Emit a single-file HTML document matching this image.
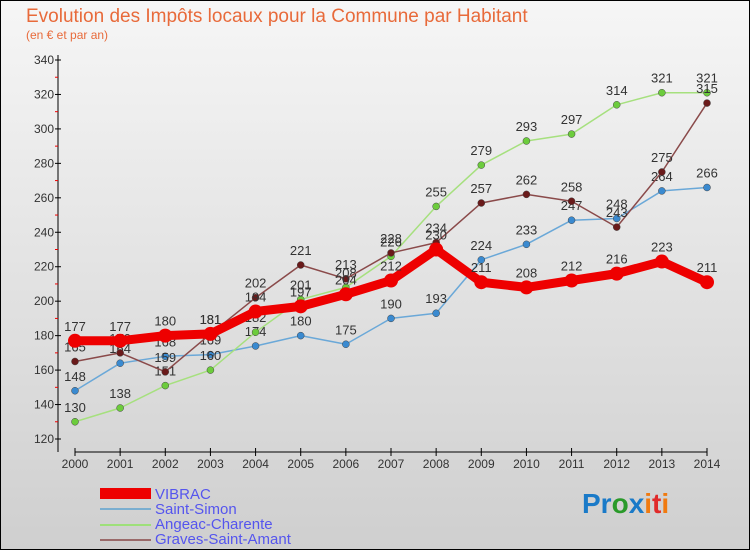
<!DOCTYPE html>
<html><head><meta charset="utf-8"><style>
body{margin:0;}
#c{width:750px;height:550px;position:relative;overflow:hidden;font-family:"Liberation Sans",sans-serif;}
</style></head><body>
<div id="c">
<svg id="s" width="750" height="550" xmlns="http://www.w3.org/2000/svg">
<defs><linearGradient id="bg" x1="0" y1="0" x2="0" y2="1"><stop offset="0" stop-color="#f6f6f6"/><stop offset="1" stop-color="#cfcfcf"/></linearGradient></defs>
<rect x="0.5" y="0.5" width="749" height="549" fill="url(#bg)" stroke="#000"/>
<text x="26" y="22" font-size="19" fill="#e86a3a">Evolution des Impôts locaux pour la Commune par Habitant</text>
<text x="26" y="39" font-size="12" fill="#e86a3a">(en € et par an)</text>
<g id="axes"></g><g id="series"></g>
<g>
<rect x="100" y="488" width="51" height="11" fill="#e00"/>
<text x="155" y="499" font-size="15" fill="#5555ee">VIBRAC</text>
<line x1="100" y1="509" x2="151" y2="509" stroke="#7aaed0" stroke-width="2"/>
<text x="155" y="514" font-size="15" fill="#5555ee">Saint-Simon</text>
<line x1="100" y1="525" x2="151" y2="525" stroke="#9ee07a" stroke-width="2"/>
<text x="155" y="529" font-size="15" fill="#5555ee">Angeac-Charente</text>
<line x1="100" y1="540" x2="151" y2="540" stroke="#9a6a6a" stroke-width="2"/>
<text x="155" y="544" font-size="15" fill="#5555ee">Graves-Saint-Amant</text>
</g>
<g font-size="28" font-weight="bold">
<text x="582" y="513"><tspan fill="#1a7ac8">Pr</tspan><tspan fill="#2a9a2a">o</tspan><tspan fill="#1a7ac8">x</tspan><tspan fill="#f07a10">i</tspan><tspan fill="#e02a2a">t</tspan><tspan fill="#f07a10">i</tspan></text>
</g>
</svg>
</div>
<script>
const years=["2000","2001","2002","2003","2004","2005","2006","2007","2008","2009","2010","2011","2012","2013","2014"];
const yTicks=[120,140,160,180,200,220,240,260,280,300,320,340];
const vibrac=[177,177,180,181,194,197,204,212,230,211,208,212,216,223,211];
const saintSimon=[148,164,168,169,174,180,175,190,193,224,233,247,248,264,266];
const angeac=[130,138,151,160,182,201,208,226,255,279,293,297,314,321,321];
const graves=[165,170,159,181,202,221,213,228,234,257,262,258,243,275,315];
const NS="http://www.w3.org/2000/svg";
const X=i=>75+i*(707-75)/14;
const Y=v=>439-(v-120)*(439-60)/220;
function mk(tag,at,parent){const e=document.createElementNS(NS,tag);for(const k in at)e.setAttribute(k,at[k]);parent.appendChild(e);return e;}
const ax=document.getElementById('axes');
let l=mk('line',{x1:58,y1:55,x2:58,y2:452,stroke:'#000'},ax);


l=mk('line',{x1:75,y1:452,x2:707,y2:452,stroke:'#000'},ax);


yTicks.forEach((v,i)=>{
  mk('line',{x1:55,y1:Y(v),x2:61,y2:Y(v),stroke:'#000'},ax);
  if(i<yTicks.length-1) mk('line',{x1:55,y1:Y(v+10),x2:58,y2:Y(v+10),stroke:'#e00'},ax);
  const t=mk('text',{x:54,y:Y(v)+4,'font-size':12,'text-anchor':'end',fill:'#333'},ax);
  t.textContent=v;
  
  
});
years.forEach((y,i)=>{
  mk('line',{x1:X(i),y1:448,x2:X(i),y2:456,stroke:'#000'},ax);
  const t=mk('text',{x:X(i),y:468,'font-size':12,'text-anchor':'middle',fill:'#333'},ax);
  t.textContent=y;
  
  
});
const sg=document.getElementById('series');
function draw(vals,name,color,dot,w,r){
  const g=mk('g',{},sg);
  
  
  mk('polyline',{points:vals.map((v,i)=>X(i)+','+Y(v)).join(' '),fill:'none',stroke:color,'stroke-width':w,'stroke-linejoin':'round'},g);
  vals.forEach((v,i)=>{
    const c=mk('circle',{cx:X(i),cy:Y(v),r:r,fill:dot,stroke:'#444','stroke-width':r>5?0:0.5},g);
    
    
    const t=mk('text',{x:X(i),y:Y(v)-10,'font-size':13,'text-anchor':'middle',fill:'#333'},g);
    t.textContent=v;
    
    
  });
}
draw(saintSimon,'saint-simon','#6aa8d8','#3a8ad0',1.5,3.5);
draw(angeac,'angeac-charente','#a6e07e','#6ccc3c',1.5,3.5);
draw(graves,'graves-saint-amant','#8a4a4a','#6a1a1a',1.5,3.5);
draw(vibrac,'vibrac','#ee0000','#ee0000',9,7);
</script>
</body></html>
